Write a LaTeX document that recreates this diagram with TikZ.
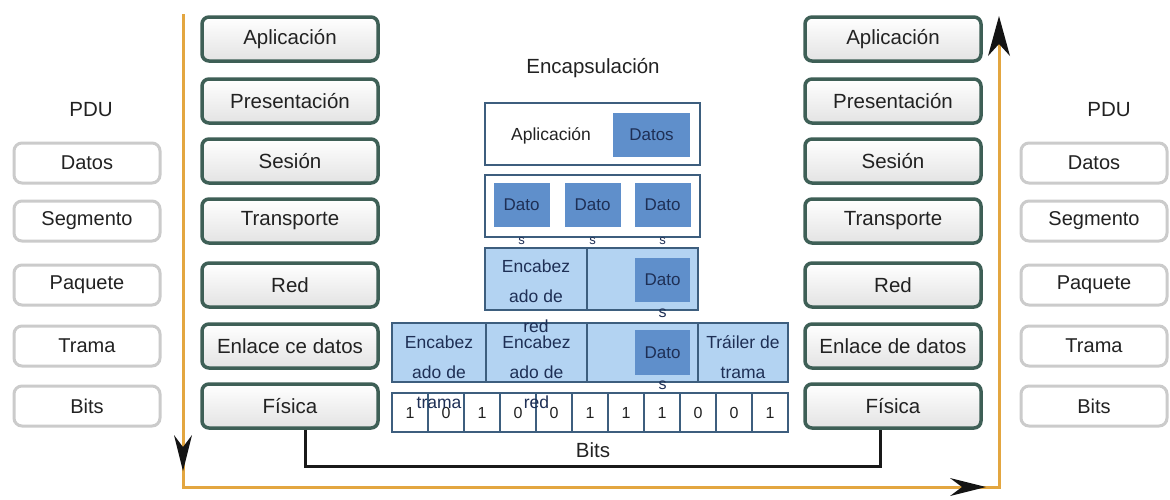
\documentclass[tikz,border=0pt]{standalone}
\usepackage{fontspec}
\setmainfont{Liberation Sans}
\usetikzlibrary{arrows.meta}
\definecolor{osiedge}{HTML}{3E5F56}
\definecolor{pduedge}{HTML}{CBCBCB}
\definecolor{flow}{HTML}{E3A640}
\definecolor{pktedge}{HTML}{3D5E7E}
\definecolor{pktlight}{HTML}{B3D3F2}
\definecolor{pktdark}{HTML}{5F8FCB}
\definecolor{ink}{HTML}{222222}
\definecolor{navy}{HTML}{1E2F55}
\begin{document}
\begin{tikzpicture}[x=1pt,y=-1pt,
  osibox/.style={draw=osiedge, line width=3.5pt, rounded corners=7pt,
    top color=white, bottom color=gray!22, minimum width=176pt,
    minimum height=44pt, inner sep=0pt, text=ink,
    font=\fontsize{20.5}{22}\selectfont},
  pdubox/.style={draw=pduedge, line width=3pt, rounded corners=8pt,
    fill=white, minimum width=146pt, minimum height=40pt, inner sep=0pt,
    text=ink, font=\fontsize{20}{22}\selectfont},
  title/.style={text=ink, font=\fontsize{20.5}{22}\selectfont},
  pkt/.style={draw=pktedge, line width=2.6pt, inner sep=0pt},
  datbox/.style={fill=pktdark, inner sep=0pt, text=navy,
    font=\fontsize{17}{19}\selectfont},
  hdr/.style={text=navy, align=center, font=\fontsize{17.5}{30}\selectfont},
  spill/.style={text=navy, font=\fontsize{16}{18}\selectfont},
  bitcell/.style={pkt, fill=white, minimum width=36pt, minimum height=39pt,
    text=ink, font=\fontsize{16}{18}\selectfont},
  flowtip/.style={fill=black!92}
]
\useasboundingbox[fill=white] (0,0) rectangle (1170,499);

% ---- up/down flow of the data
\coordinate (fTop) at (183,14);
\coordinate (fBL) at (183,487);
\coordinate (fBR) at (999,487);
\coordinate (fEnd) at (999,40);
\draw[flow, line width=3pt] (fTop) -- (fBL) -- (fBR) -- (fEnd);
% arrowheads sitting on the flow line
\fill[flowtip] (183,471) -- (174,435) -- (183,447) -- (192,435) -- cycle;
\fill[flowtip] (986,487) -- (950,478) -- (962,487) -- (950,496) -- cycle;
\fill[flowtip] (999,16) -- (988,56) -- (999,44) -- (1010,56) -- cycle;

% ---- PDU columns
\node[title] (pduL) at (91,110) {PDU};
\node[title] (pduR) at (1109,110) {PDU};
\foreach \name/\txt/\yy in {d/Datos/163, s/Segmento/221, p/Paquete/285, t/Trama/346, b/Bits/406}{
  \node[pdubox] (pl\name) at (87,\yy) {\txt};
  \node[pdubox] (pr\name) at (1094,\yy) {\txt};
}

% ---- OSI layers, sender and receiver
\foreach \name/\txt/\yy in {ap/Aplicación/39, pr/Presentación/101, se/Sesión/161,
    tr/Transporte/221, re/Red/285, fi/Física/406}{
  \node[osibox] (L\name) at (290,\yy) {\txt};
  \node[osibox] (R\name) at (893,\yy) {\txt};
}
\node[osibox] (Len) at (290,346) {Enlace ce datos};
\node[osibox] (Ren) at (893,346) {Enlace de datos};

% ---- physical link between both stacks
\draw[line width=3pt, black!90] ([xshift=15pt]Lfi.south) -- ++(0,37)
  -| ([xshift=-13pt]Rfi.south);

% ---- encapsulation
\node[title] (enc) at (593,68) {Encapsulación};

\node[pkt, fill=white, minimum width=215pt, minimum height=62pt] (b1) at (592.5,134) {};
\node[text=ink, font=\fontsize{17.5}{19}\selectfont] (b1t) at (551,136) {Aplicación};
\node[datbox, minimum width=77pt, minimum height=44pt] (b1d) at (651.5,135) {Datos};

\node[pkt, fill=white, minimum width=215pt, minimum height=62pt] (b2) at (592.5,206) {};
\foreach \k/\xx in {1/521.5, 2/592.5, 3/662.5}{
  \node[datbox, minimum width=56pt, minimum height=44pt] (b2d\k) at (\xx,205) {Dato};
  \node[spill, font=\fontsize{13}{14}\selectfont] (b2s\k) at (\xx,241) {s};
}

\node[pkt, fill=pktlight, minimum width=102pt, minimum height=62pt] (b3a) at (536,279) {};
\node[pkt, fill=pktlight, minimum width=111pt, minimum height=62pt] (b3b) at (642.5,279) {};
\node[datbox, minimum width=55pt, minimum height=44pt] (b3d) at (662.5,280) {Dato};

\node[pkt, fill=pktlight, minimum width=94pt, minimum height=59pt] (b4a) at (439,352.5) {};
\node[pkt, fill=pktlight, minimum width=101pt, minimum height=59pt] (b4b) at (536.5,352.5) {};
\node[pkt, fill=pktlight, minimum width=111pt, minimum height=59pt] (b4c) at (642.5,352.5) {};
\node[pkt, fill=pktlight, minimum width=90pt, minimum height=59pt] (b4d) at (743,352.5) {};
\node[datbox, minimum width=55pt, minimum height=45pt] (b4dd) at (662.5,352.5) {Dato};

% ---- bits on the wire
\foreach \bit [count=\i] in {1,0,1,0,0,1,1,1,0,0,1}{
  \node[bitcell] (bit\i) at ({374+36*\i},412.5) {\bit};
}
\node[title] (bitsT) at (593,450) {Bits};

% ---- header texts that run past their cells
\node[hdr] (h3) at (536,296) {Encabez\\ado de\\red};
\node[spill] (b3s) at (662.5,313) {s};
\node[hdr] (h4a) at (439,372) {Encabez\\ado de\\trama};
\node[hdr] (h4b) at (536.5,372) {Encabez\\ado de\\red};
\node[spill] (b4s) at (662.5,385) {s};
\node[hdr] (h4d) at (743,357) {Tráiler de\\trama};
\end{tikzpicture}
\end{document}
